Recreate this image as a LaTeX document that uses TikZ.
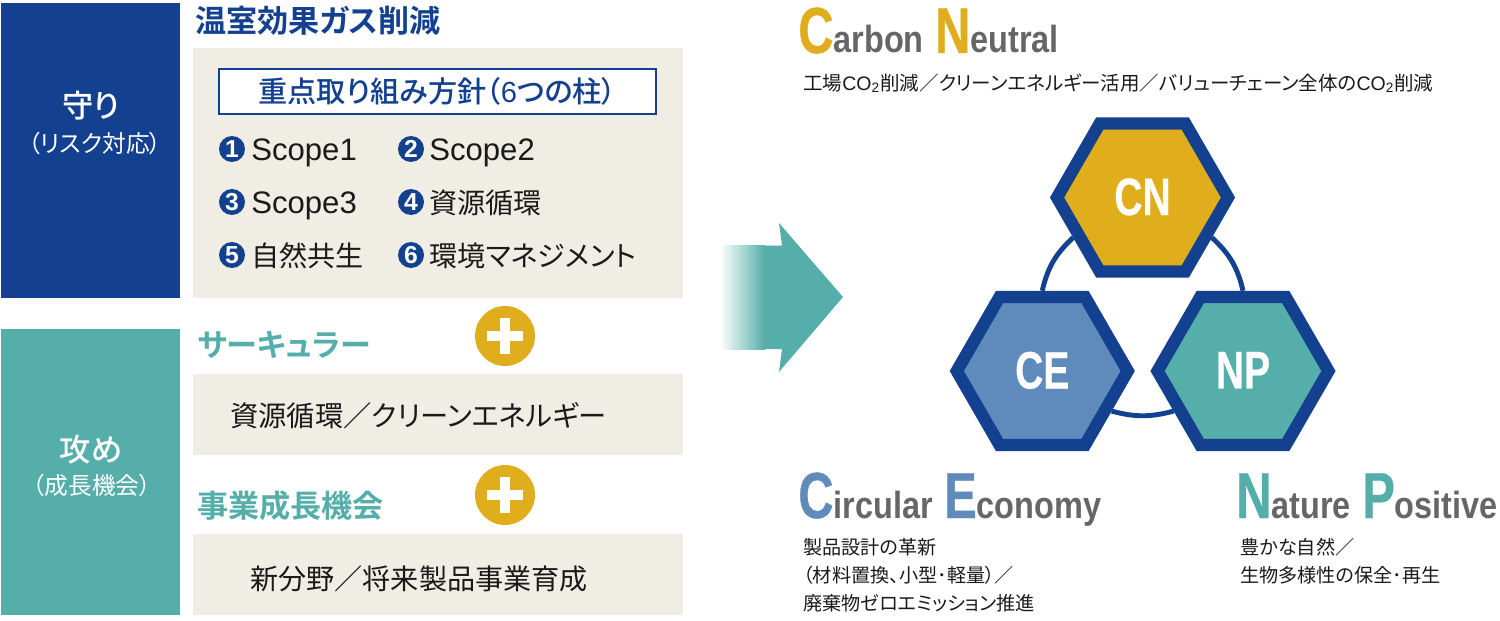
\documentclass[tikz,border=0pt]{standalone}
\usepackage{xcolor}
\usepackage{fontspec}
\usetikzlibrary{shapes.geometric,backgrounds}
\setmainfont[BoldFont={Noto Sans CJK JP Bold},RawFeature={+palt}]{Noto Sans CJK JP}
\newfontfamily\medfont[RawFeature={+palt}]{Noto Sans CJK JP Medium}
\newfontfamily\latinfont{Liberation Sans}
\newfontfamily\titlefont[FakeStretch=0.86]{Liberation Sans Bold}
\newfontfamily\capfont[FakeStretch=0.75,FakeBold=0.6]{Liberation Sans Bold}
\newfontfamily\hexfont[FakeStretch=0.74,FakeBold=0.3]{Liberation Sans Bold}
\definecolor{navy}{HTML}{13408F}
\definecolor{teal}{HTML}{55AEA9}
\definecolor{gold}{HTML}{E0AE1C}
\definecolor{steel}{HTML}{5F8ABC}
\definecolor{beige}{HTML}{F0EDE5}
\definecolor{ink}{HTML}{1A1A1A}
\definecolor{slate}{HTML}{666666}
\newcommand{\fs}[1]{\fontsize{#1}{#1}\selectfont}
\newcommand{\initial}[2]{{\capfont\fs{37}\color{#1}#2}}
\tikzset{
  panel/.style={shape=rectangle,fill=beige,minimum width=9.8cm,inner sep=0pt},
  sidebox/.style={shape=rectangle,minimum width=3.58cm,inner sep=0pt},
  hexnode/.style={shape=regular polygon,regular polygon sides=6,draw=navy,line width=7pt,minimum size=3.42cm,inner sep=0pt,text=white,font=\hexfont\fs{30}},
  numdot/.style={shape=circle,fill=navy,text=white,minimum size=0.52cm,inner sep=0pt,font=\latinfont\bfseries\fs{14}},
  plusdot/.style={shape=circle,fill=gold,minimum size=1.2cm,inner sep=0pt},
  plusbar/.style={draw=white,line width=6pt},
  itemtext/.style={anchor=base west,inner sep=0pt,text=ink,font=\fs{16}},
  subtext/.style={anchor=base west,inner sep=0pt,text=ink,font=\fs{10.9}},
  headtext/.style={anchor=base west,inner sep=0pt,font=\bfseries\fs{17.7}},
  sidehead/.style={text=white,inner sep=0pt,font=\medfont\fs{17.8}},
  sidesub/.style={text=white,inner sep=0pt,font=\fs{13.5}},
  titletext/.style={anchor=base west,inner sep=0pt,text=slate,font=\titlefont\fs{21.5}},
  ringline/.style={draw=navy,line width=2.8pt}
}
\begin{document}
\begin{tikzpicture}[x=0.02cm,y=0.02cm]
    \useasboundingbox (0,0) rectangle (1500,620);

    \node[sidebox,fill=navy,minimum height=5.9cm] (mamori) at (90.5,469.5) {};
    \node[sidebox,fill=teal,minimum height=5.72cm] (seme) at (90.5,148) {};
    \node[sidehead] (mamoriT) at (91,514) {守り};
    \node[sidesub] (mamoriS) at (95,477) {（リスク対応）};
    \node[sidehead] (semeT) at (91,170) {攻め};
    \node[sidesub] (semeS) at (92,135) {（成長機会）};

    \node[panel,minimum height=5cm] (panelA) at (438,447) {};
    \node[panel,minimum height=1.62cm] (panelB) at (438,205.5) {};
    \node[panel,minimum height=1.62cm] (panelC) at (438,45.5) {};

    \node[headtext,text=navy] (gas) at (195,587) {温室効果ガス削減};
    \node[shape=rectangle,draw=navy,line width=1.1pt,fill=white,minimum width=8.74cm,minimum height=0.9cm,inner sep=0pt,text=navy,font=\medfont\fs{16.6}] (policy) at (437.5,528.5) {重点取り組み方針（{\latinfont 6}つの柱）};

    \node[numdot] (n1) at (232,471) {1};
    \node[numdot] (n2) at (411,471) {2};
    \node[numdot] (n3) at (232,418) {3};
    \node[numdot] (n4) at (411,418) {4};
    \node[numdot] (n5) at (232,365) {5};
    \node[numdot] (n6) at (411,365) {6};
    \node[itemtext,font=\latinfont\fs{17.7}] (t1) at (251,460) {Scope1};
    \node[itemtext,font=\latinfont\fs{17.7}] (t2) at (429,460) {Scope2};
    \node[itemtext,font=\latinfont\fs{17.7}] (t3) at (251,407) {Scope3};
    \node[itemtext] (t4) at (429,407) {資源循環};
    \node[itemtext] (t5) at (251,354) {自然共生};
    \node[itemtext] (t6) at (429,354) {環境マネジメント};

    \node[headtext,text=teal] (circ) at (197,264) {サーキュラー};
    \node[headtext,text=teal] (biz) at (197,103) {事業成長機会};
    \node[itemtext,font=\fs{16.1}] (tB) at (230,194) {資源循環／クリーンエネルギー};
    \node[itemtext] (tC) at (250,31) {新分野／将来製品事業育成};

    \node[plusdot] (plusA) at (505,284) {};
    \node[plusdot] (plusB) at (505,125) {};
    \draw[plusbar] ([xshift=-10pt]plusA.center) -- ([xshift=10pt]plusA.center);
    \draw[plusbar] ([yshift=-10pt]plusA.center) -- ([yshift=10pt]plusA.center);
    \draw[plusbar] ([xshift=-10pt]plusB.center) -- ([xshift=10pt]plusB.center);
    \draw[plusbar] ([yshift=-10pt]plusB.center) -- ([yshift=10pt]plusB.center);

    \shade[left color=white,right color=teal] (720,271) rectangle (765,374.5);
    \fill[teal] (764,271) -- (782,271) -- (779,248) -- (843,323) -- (779,397) -- (782,374.5) -- (764,374.5) -- cycle;

    \node[hexnode,fill=gold] (CN) at (1142.5,422.5) {\raisebox{1pt}{CN}};
    \node[hexnode,fill=steel] (CE) at (1042.25,249) {\raisebox{1pt}{CE}};
    \node[hexnode,fill=teal] (NP) at (1243,249) {\raisebox{1pt}{NP}};
    \begin{scope}[on background layer]
        \draw[ringline] (CE.north) to[out=77,in=223] (CN.210);
        \draw[ringline] (CN.330) to[out=-43,in=103] (NP.north);
        \draw[ringline] (CE.330) to[out=-15,in=195] (NP.210);
    \end{scope}

    \node[titletext] (cnT) at (798,567) {\initial{gold}{C}arbon\hspace{6.5pt}\initial{gold}{N}eutral};
    \node[subtext,font=\fs{11.1}] (cnS) at (803,530) {工場{\latinfont CO\textsubscript{2}}削減／クリーンエネルギー活用／バリューチェーン全体の{\latinfont CO\textsubscript{2}}削減};
    \node[titletext] (ceT) at (798,102) {\initial{steel}{C}ircular\hspace{6.5pt}\initial{steel}{E}conomy};
    \node[subtext] (ceA) at (803,66) {製品設計の革新};
    \node[subtext] (ceB) at (803,38) {（材料置換、小型･軽量）／};
    \node[subtext] (ceC) at (803,10) {廃棄物ゼロエミッション推進};
    \node[titletext] (npT) at (1236,102) {\initial{teal}{N}ature\hspace{6.5pt}\initial{teal}{P}ositive};
    \node[subtext] (npA) at (1240,66) {豊かな自然／};
    \node[subtext] (npB) at (1240,38) {生物多様性の保全･再生};
\end{tikzpicture}
\end{document}
